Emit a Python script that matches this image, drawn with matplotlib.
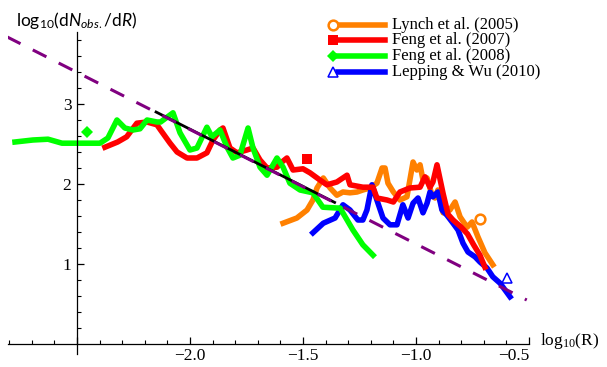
import matplotlib
matplotlib.use('Agg')
import matplotlib.pyplot as plt

# Data
lynch_x = [-1.588, -1.527, -1.482, -1.456, -1.438, -1.41, -1.38, -1.35, -1.323, -1.292,
           -1.261, -1.235, -1.204, -1.173, -1.15, -1.137, -1.124, -1.10, -1.071, -1.04,
           -1.027, -1.013, -0.996, -0.982, -0.969, -0.951, -0.929, -0.916, -0.903, -0.88,
           -0.85, -0.827, -0.805, -0.774, -0.752, -0.726, -0.695, -0.66]
lynch_y = [1.51, 1.575, 1.675, 1.80, 1.95, 2.075, 1.95, 1.86, 1.90, 1.89,
           1.90, 1.925, 1.95, 2.01, 2.20, 2.20, 2.01, 1.90, 1.80, 1.84,
           2.05, 2.275, 2.175, 2.24, 2.05, 2.075, 1.86, 1.825, 1.925, 1.64,
           1.675, 1.775, 1.59, 1.46, 1.525, 1.34, 1.14, 0.99]

feng07_x = [-2.376, -2.32, -2.28, -2.235, -2.19, -2.146, -2.13, -2.088, -2.057, -2.013,
            -1.969, -1.925, -1.898, -1.867, -1.854, -1.823, -1.792, -1.748, -1.721, -1.69,
            -1.659, -1.615, -1.593, -1.571, -1.544, -1.50, -1.469, -1.425, -1.394, -1.35,
            -1.305, -1.292, -1.235, -1.19, -1.173, -1.128, -1.10, -1.071, -1.027, -0.982,
            -0.96, -0.938, -0.925, -0.907, -0.88, -0.858, -0.836, -0.80, -0.772, -0.745,
            -0.717, -0.695]
feng07_y = [2.46, 2.525, 2.59, 2.76, 2.775, 2.74, 2.675, 2.51, 2.40, 2.325,
            2.325, 2.39, 2.55, 2.675, 2.70, 2.45, 2.39, 2.425, 2.45, 2.30,
            2.20, 2.21, 2.275, 2.325, 2.175, 2.19, 2.14, 2.05, 1.99, 2.025,
            2.11, 1.99, 1.96, 1.96, 1.825, 1.80, 1.775, 1.90, 1.95, 1.96,
            2.09, 1.96, 2.025, 2.24, 1.88, 1.62, 1.55, 1.46, 1.375, 1.24,
            1.11, 0.96]

feng08_x = [-2.774, -2.695, -2.628, -2.566, -2.50, -2.398, -2.363, -2.323, -2.288, -2.252,
            -2.221, -2.19, -2.146, -2.13, -2.075, -2.044, -2.0, -1.969, -1.925, -1.903,
            -1.867, -1.836, -1.81, -1.779, -1.743, -1.721, -1.69, -1.659, -1.615, -1.588,
            -1.558, -1.513, -1.456, -1.412, -1.35, -1.336, -1.279, -1.235, -1.19]
feng08_y = [2.525, 2.55, 2.56, 2.51, 2.51, 2.51, 2.575, 2.80, 2.70, 2.675,
            2.69, 2.80, 2.775, 2.775, 2.89, 2.64, 2.425, 2.45, 2.71, 2.59,
            2.675, 2.46, 2.325, 2.36, 2.70, 2.45, 2.21, 2.11, 2.325, 2.21,
            2.01, 1.925, 1.89, 1.71, 1.70, 1.70, 1.425, 1.24, 1.11]

lepping_x = [-1.456, -1.41, -1.358, -1.323, -1.292, -1.257, -1.235, -1.217, -1.195, -1.173,
             -1.146, -1.115, -1.084, -1.058, -1.035, -1.013, -0.991, -0.969, -0.951, -0.938,
             -0.925, -0.903, -0.885, -0.863, -0.836, -0.814, -0.792, -0.77, -0.739, -0.717,
             -0.686, -0.66, -0.628, -0.606, -0.584]
lepping_y = [1.39, 1.51, 1.575, 1.74, 1.675, 1.55, 1.55, 1.675, 1.99, 1.80,
             1.575, 1.49, 1.49, 1.74, 1.575, 1.76, 1.825, 1.64, 1.76, 1.90,
             1.84, 1.90, 1.675, 1.61, 1.51, 1.425, 1.26, 1.15, 1.09, 1.025,
             0.95, 0.84, 0.76, 0.675, 0.59]

# single points from the literature
lynch_pt = (-0.717, 1.56)
feng07_pt = (-1.482, 2.31)
feng08_pt = (-2.456, 2.65)
lepping_pt = (-0.597, 0.825)

# power-law fit (dashed) and fitted range (black)
fit_x = [-2.81, -0.51]
fit_y = [3.84, 0.55]
seg_x = [-2.15, -1.36]
seg_y = [2.90, 1.77]

labels = ['Lynch et al. (2005)', 'Feng et al. (2007)', 'Feng et al. (2008)', 'Lepping & Wu (2010)']
colors = ['#ff8000', '#ff0000', '#00ff00', '#0000ff']

plt.rcParams['font.family'] = ['Liberation Serif', 'DejaVu Serif']
plt.rcParams['mathtext.fontset'] = 'custom'
plt.rcParams['mathtext.rm'] = 'Liberation Serif'
plt.rcParams['mathtext.it'] = 'Lato:italic'
plt.rcParams['mathtext.sf'] = 'Lato'

fig = plt.figure(figsize=(6.07, 3.67), dpi=100)
ax = fig.add_axes([8 / 607, 13 / 367, 521 / 607, 322 / 367])

lw = 4.0
ax.plot(lynch_x, lynch_y, color=colors[0], lw=lw, solid_joinstyle='round')
ax.plot(lepping_x, lepping_y, color=colors[3], lw=lw, solid_joinstyle='round')
ax.plot(feng07_x, feng07_y, color=colors[1], lw=lw, solid_joinstyle='round')
ax.plot(feng08_x, feng08_y, color=colors[2], lw=lw, solid_joinstyle='round')

ax.plot(seg_x, seg_y, color='black', lw=2)
ax.plot(fit_x, fit_y, color='#800080', lw=2.2, dashes=(5, 4.5))

# markers
mk = [dict(marker='o', ms=7, mfc='white', mec=colors[0], mew=1.8),
      dict(marker='s', ms=6.5, mfc=colors[1], mec=colors[1], mew=0),
      dict(marker='D', ms=6, mfc=colors[2], mec=colors[2], mew=0),
      dict(marker='^', ms=7, mfc='white', mec=colors[3], mew=1.1)]
for pt, m in zip([lynch_pt, feng07_pt, feng08_pt, lepping_pt], mk):
    ax.plot([pt[0]], [pt[1]], ls='none', **m)

ax.set_xlim(-2.805, -0.5)
ax.set_ylim(-0.125, 3.9)

# Mathematica-like axes crossing at (-2.5, 0)
ax.spines['left'].set_position(('data', -2.5))
ax.spines['bottom'].set_position(('data', 0))
ax.spines['top'].set_visible(False)
ax.spines['right'].set_visible(False)
ax.spines['left'].set_linewidth(0.9)
ax.spines['bottom'].set_linewidth(0.9)

ax.set_xticks([-2.5, -2.0, -1.5, -1.0, -0.5])
ax.set_xticklabels(['', '\u22122.0', '\u22121.5', '\u22121.0', '\u22120.5'])
ax.set_xticks([-2.8, -2.7, -2.6, -2.4, -2.3, -2.2, -2.1, -1.9, -1.8, -1.7, -1.6,
               -1.4, -1.3, -1.2, -1.1, -0.9, -0.8, -0.7, -0.6], minor=True)
ax.set_yticks([1, 2, 3])
ax.set_yticks([0.2, 0.4, 0.6, 0.8, 1.2, 1.4, 1.6, 1.8, 2.2, 2.4, 2.6, 2.8,
               3.2, 3.4, 3.6, 3.8], minor=True)
ax.tick_params(which='major', direction='in', length=5, width=0.9, labelsize=12.5, pad=3)
ax.tick_params(which='minor', direction='in', length=3, width=0.8)
ax.tick_params(axis='y', pad=4)
ax.get_xticklabels()[-1].set_horizontalalignment('right')

ax.text(-0.45, 0.04, r'$\mathrm{log}_{10}\mathrm{(R)}$', fontsize=12.5,
        ha='left', va='center', clip_on=False)
ax.text(-2.5, 4.04, r'$\mathsf{log}_{\mathsf{10}}\mathsf{(d}\mathit{N}_{\mathit{obs.}}\mathsf{/d}\mathit{R}\mathsf{)}$',
        fontsize=12.5, ha='center', va='center', clip_on=False)

# legend drawn by hand: marker, line, label
rows = [25, 40, 56, 72]
for py, lab, c, m in zip(rows, labels, colors, mk):
    yf = 1 - py / 367
    fig.lines.append(plt.Line2D([338 / 607, 385 / 607], [yf, yf], color=c, lw=lw,
                                transform=fig.transFigure))
    fig.lines.append(plt.Line2D([333 / 607], [yf], ls='none', transform=fig.transFigure, **m))
    fig.text(392 / 607, yf, lab, fontsize=12, ha='left', va='center')

fig.savefig('out.png', dpi=100)
